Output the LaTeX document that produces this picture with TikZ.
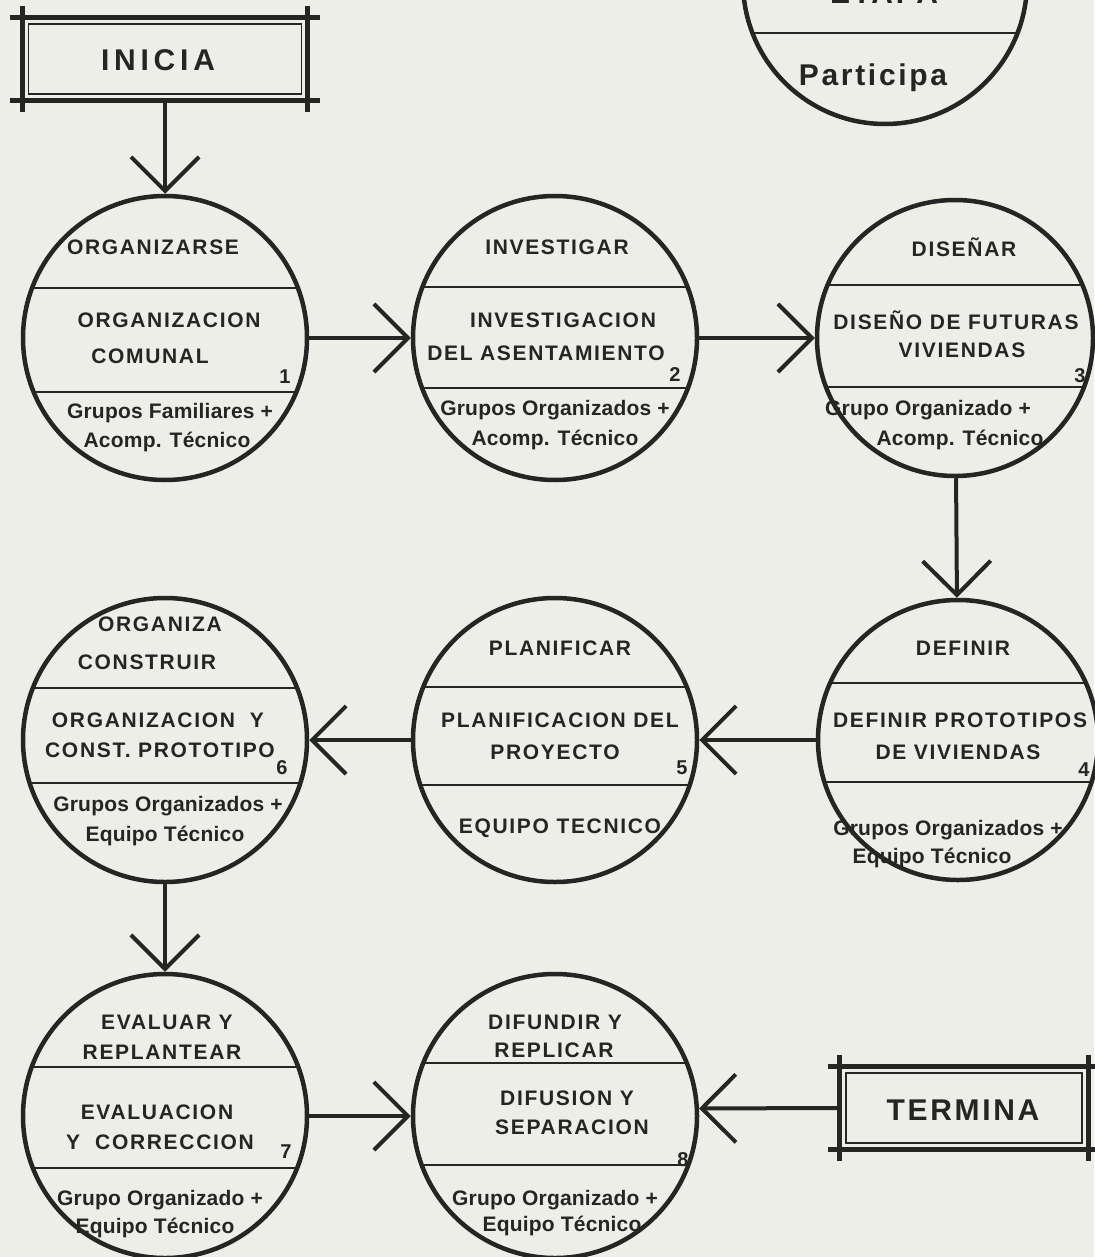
\documentclass[tikz,border=0pt]{standalone}
\usepackage{fontspec}
\setmainfont{Liberation Sans}
\newfontfamily\capfam[LetterSpace=8]{Liberation Sans}
\newfontfamily\lowfam[LetterSpace=1]{Liberation Sans}
\newfontfamily\boxfam[LetterSpace=9]{Liberation Sans}
\newfontfamily\inifam[LetterSpace=16]{Liberation Sans}
\usetikzlibrary{arrows.meta}
\definecolor{paper}{RGB}{238,238,233}
\definecolor{ink}{RGB}{36,38,36}
\tikzset{
 circ/.style={circle, draw=ink, line width=4.5pt, minimum size=284pt, inner sep=0pt},
 chordline/.style={draw=ink, line width=2pt},
 flow/.style={draw=ink, line width=4pt, -{Straight Barb[length=34pt,width=68pt]}},
 captext/.style={font=\capfam\bfseries\fontsize{21}{25}\selectfont, text=ink, inner sep=0pt},
 lowtext/.style={font=\lowfam\bfseries\fontsize{21}{25}\selectfont, text=ink, inner sep=0pt},
 numtext/.style={font=\capfam\bfseries\fontsize{20}{24}\selectfont, text=ink, inner sep=0pt},
 bigtext/.style={font=\boxfam\bfseries\fontsize{30}{34}\selectfont, text=ink, inner sep=0pt},
 initext/.style={font=\inifam\bfseries\fontsize{30}{34}\selectfont, text=ink, inner sep=0pt},
 boxline/.style={draw=ink, line width=5pt},
 innerline/.style={draw=ink, line width=1.5pt},
 termbox/.style={minimum height=82pt, inner sep=0pt},
}
\newcommand\chordat[3]{\begin{scope}\clip (#1.center) circle[radius=#2];\draw[chordline] (#1.center) ++(-300,#3) -- ++(600,0);\end{scope}}
\newcommand\myframe[1]{%
 \draw[boxline] ([xshift=-12pt]#1.north west) -- ([xshift=12pt]#1.north east);
 \draw[boxline] ([xshift=-12pt]#1.south west) -- ([xshift=12pt]#1.south east);
 \draw[boxline] ([yshift=12pt]#1.north west) -- ([yshift=-12pt]#1.south west);
 \draw[boxline] ([yshift=12pt]#1.north east) -- ([yshift=-12pt]#1.south east);
 \draw[innerline] ([shift={(6pt,-6pt)}]#1.north west) rectangle ([shift={(-6pt,6pt)}]#1.south east);}
\begin{document}
\begin{tikzpicture}[x=1pt,y=-1pt]
\fill[paper] (0,0) rectangle (1094,1257);
\useasboundingbox (0,0) rectangle (1094,1257);

% top-right legend circle
\node[circ] (leg) at (885,-18) {};
\chordat{leg}{142}{51}
\node[bigtext, anchor=base] (legA) at (884,4) {ETAPA};
\node[bigtext] (legB) at (873,78) {Participa};

% start / end boxes
\node[termbox, minimum width=285pt] (inicia) at (165,59) {};
\node[initext] (iniT) at (158,60) {INICIA};
\myframe{inicia}
\node[termbox, minimum width=248pt] (term) at (964,1108) {};
\node[bigtext] (termT) at (963,1110) {TERMINA};
\myframe{term}

% circles
\node[circ] (c1) at (165,338) {};
\node[circ] (c2) at (555,338) {};
\node[circ, minimum size=276pt] (c3) at (955,338) {};
\node[circ, minimum size=280pt] (c4) at (958,740) {};
\node[circ] (c5) at (555,740) {};
\node[circ] (c6) at (165,740) {};
\node[circ] (c7) at (165,1116) {};
\node[circ] (c8) at (555,1116) {};

\chordat{c1}{142}{-50}\chordat{c1}{142}{54}
\chordat{c2}{142}{-51}\chordat{c2}{142}{50}
\chordat{c3}{138}{-53}\chordat{c3}{138}{49}
\chordat{c4}{140}{-57}\chordat{c4}{140}{42}
\chordat{c5}{142}{-53}\chordat{c5}{142}{45}
\chordat{c6}{142}{-52}\chordat{c6}{142}{43}
\chordat{c7}{142}{-49}\chordat{c7}{142}{52}
\chordat{c8}{142}{-53}\chordat{c8}{142}{49}

% circle 1
\node[captext] (t1a) at (153,247) {ORGANIZARSE};
\node[captext] (t1b) at (169,320) {ORGANIZACION};
\node[captext] (t1c) at (150,356) {COMUNAL};
\node[numtext] (n1) at (285,377) {1};
\node[lowtext] (t1d) at (170,413) {Grupos Familiares +};
\node[lowtext] (t1e) at (167,442) {Acomp. Técnico};

% circle 2
\node[captext] (t2a) at (557,247) {INVESTIGAR};
\node[captext] (t2b) at (563,320) {INVESTIGACION};
\node[captext] (t2c) at (546,353) {DEL ASENTAMIENTO};
\node[numtext] (n2) at (675,375) {2};
\node[lowtext] (t2d) at (555,410) {Grupos Organizados +};
\node[lowtext] (t2e) at (555,440) {Acomp. Técnico};

% circle 3
\node[captext] (t3a) at (964,247) {DISEÑAR};
\node[captext] (t3b) at (956,320) {DISEÑO DE FUTURAS};
\node[captext] (t3c) at (962,350) {VIVIENDAS};
\node[numtext] (n3) at (1080,376) {3};
\node[lowtext] (t3d) at (928,410) {Grupo Organizado +};
\node[lowtext] (t3e) at (960,440) {Acomp. Técnico};

% circle 4
\node[captext] (t4a) at (963,648) {DEFINIR};
\node[captext] (t4b) at (960,720) {DEFINIR PROTOTIPOS};
\node[captext] (t4c) at (958,752) {DE VIVIENDAS};
\node[numtext] (n4) at (1084,770) {4};
\node[lowtext] (t4d) at (948,830) {Grupos Organizados +};
\node[lowtext] (t4e) at (932,858) {Equipo Técnico};

% circle 5
\node[captext] (t5a) at (560,648) {PLANIFICAR};
\node[captext] (t5b) at (560,720) {PLANIFICACION DEL};
\node[captext] (t5c) at (555,752) {PROYECTO};
\node[numtext] (n5) at (682,768) {5};
\node[captext] (t5d) at (560,828) {EQUIPO TECNICO};

% circle 6
\node[captext] (t6a) at (160,624) {ORGANIZA};
\node[captext] (t6b) at (147,662) {CONSTRUIR};
\node[captext] (t6c) at (158,720) {ORGANIZACION\ \ Y};
\node[captext] (t6d) at (160,750) {CONST. PROTOTIPO};
\node[numtext] (n6) at (282,768) {6};
\node[lowtext] (t6e) at (168,806) {Grupos Organizados +};
\node[lowtext] (t6f) at (165,836) {Equipo Técnico};

% circle 7
\node[captext] (t7a) at (167,1022) {EVALUAR Y};
\node[captext] (t7b) at (162,1052) {REPLANTEAR};
\node[captext] (t7c) at (157,1112) {EVALUACION};
\node[captext] (t7d) at (160,1142) {Y\ \ CORRECCION};
\node[numtext] (n7) at (286,1152) {7};
\node[lowtext] (t7e) at (160,1200) {Grupo Organizado +};
\node[lowtext] (t7f) at (155,1228) {Equipo Técnico};

% circle 8
\node[captext] (t8a) at (555,1022) {DIFUNDIR Y};
\node[captext] (t8b) at (554,1050) {REPLICAR};
\node[captext] (t8c) at (567,1098) {DIFUSION Y};
\node[captext] (t8d) at (572,1127) {SEPARACION};
\node[numtext] (n8) at (683,1160) {8};
\node[lowtext] (t8e) at (555,1200) {Grupo Organizado +};
\node[lowtext] (t8f) at (562,1226) {Equipo Técnico};

% connectors
\draw[flow] (inicia.south) -- (c1.north);
\draw[flow] (c1) -- (c2);
\draw[flow] (c2) -- (c3);
\draw[flow] (c3) -- (c4);
\draw[flow] (c4) -- (c5);
\draw[flow] (c5) -- (c6);
\draw[flow] (c6) -- (c7);
\draw[flow] (c7) -- (c8);
\draw[flow] (term.west) -- (c8.3);
\end{tikzpicture}
\end{document}
